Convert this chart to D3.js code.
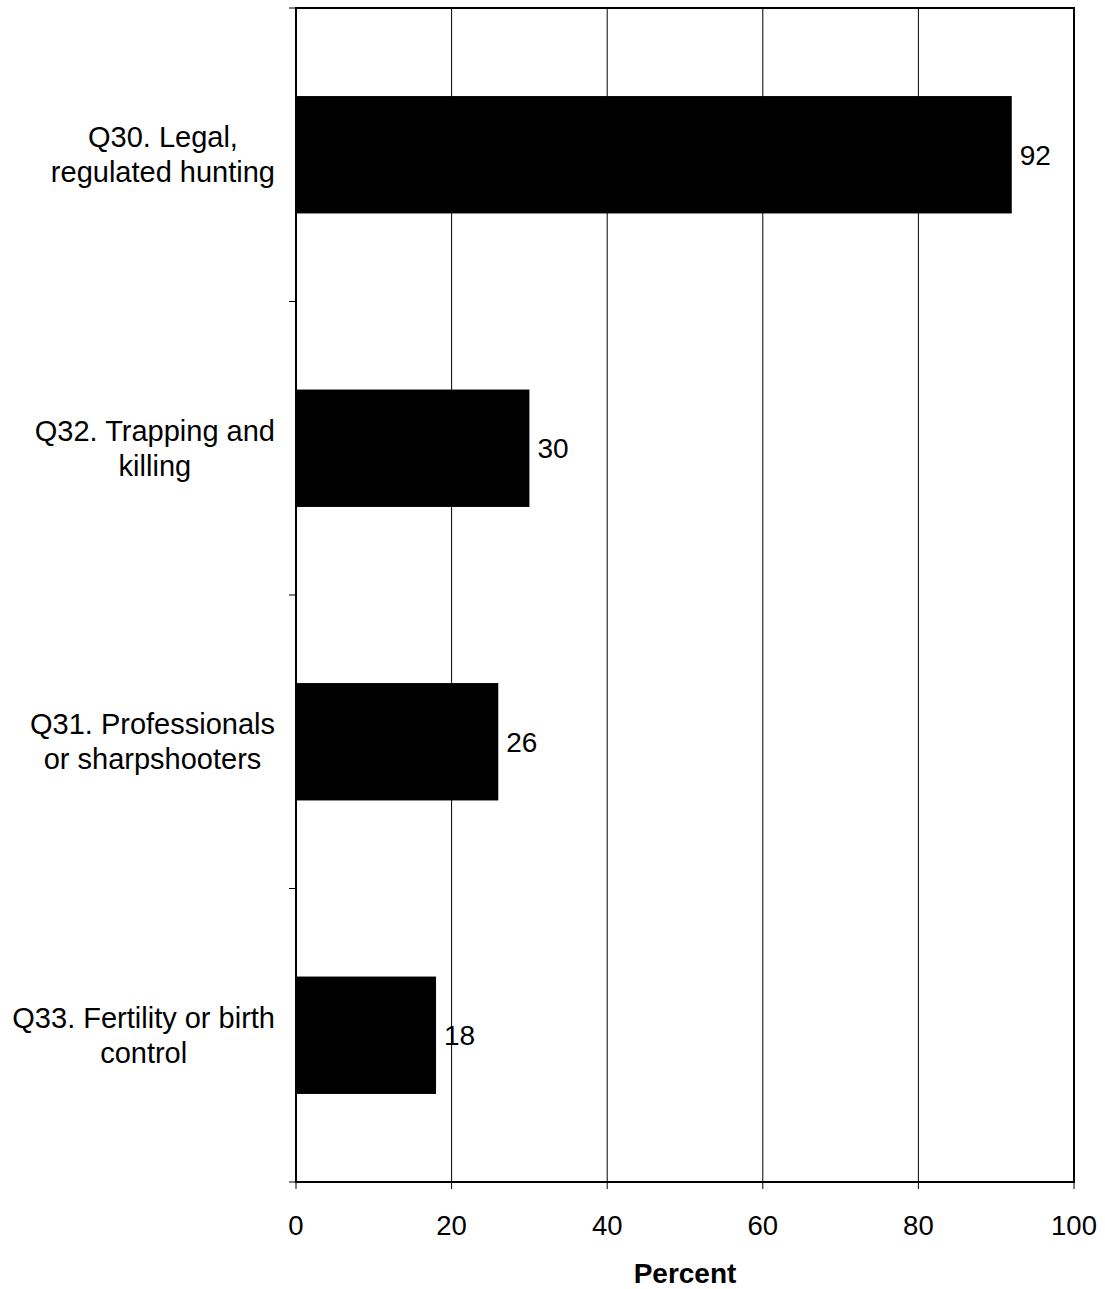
<!DOCTYPE html>
<html><head><meta charset="utf-8">
<script src="https://cdn.jsdelivr.net/npm/d3@7"></script>
<style>body{margin:0;background:#fff}svg{display:block}text{font-family:"Liberation Sans",Arial,sans-serif;fill:#000}</style>
</head><body>
<script>
const categories = ["Q30. Legal,\nregulated hunting","Q32. Trapping and\nkilling","Q31. Professionals\nor sharpshooters","Q33. Fertility or birth\ncontrol"];
const values = [92,30,26,18];
const xTicks = [0,20,40,60,80,100];
const xTitle = "Percent";

const W=1105,H=1289,FS=28,CFS=29;
const m={l:296,r:1074,t:8,b:1182};
const svg=d3.select("body").append("svg").attr("width",W).attr("height",H);
const x=d3.scaleLinear().domain([0,100]).range([m.l,m.r]);
const y=d3.scaleBand().domain(categories).range([m.t,m.b]).paddingInner(0.6).paddingOuter(0.3);
const yb=d3.scaleBand().domain(categories).range([m.t,m.b]);

// gridlines
svg.append("g").selectAll("line").data(xTicks.slice(1,-1)).join("line")
 .attr("x1",d=>x(d)).attr("x2",d=>x(d)).attr("y1",m.t).attr("y2",m.b)
 .attr("stroke","#000").attr("stroke-width",1);

// bars
svg.append("g").selectAll("rect").data(values).join("rect")
 .attr("x",x(0)).attr("y",(d,i)=>y(categories[i])).attr("width",d=>x(d)-x(0))
 .attr("height",y.bandwidth()).attr("fill","#000");

// value labels
svg.append("g").selectAll("text").data(values).join("text")
 .attr("x",d=>x(d)+8).attr("y",(d,i)=>y(categories[i])+y.bandwidth()/2)
 .attr("dy","0.35em").attr("font-size",FS).text(d=>d);

// frame
svg.append("rect").attr("x",m.l).attr("y",m.t).attr("width",m.r-m.l).attr("height",m.b-m.t)
 .attr("fill","none").attr("stroke","#000").attr("stroke-width",2);

// x axis ticks
const xa=svg.append("g");
xa.selectAll("line").data(xTicks).join("line")
 .attr("x1",d=>x(d)).attr("x2",d=>x(d)).attr("y1",m.b).attr("y2",m.b+7).attr("stroke","#000").attr("stroke-width",1);
xa.selectAll("text").data(xTicks).join("text")
 .attr("x",d=>x(d)).attr("y",1235).attr("text-anchor","middle").attr("font-size",27.5).text(d=>d);
svg.append("text").attr("x",(m.l+m.r)/2).attr("y",1283).attr("text-anchor","middle")
 .attr("font-size",FS).attr("font-weight","bold").text(xTitle);

// y ticks at band boundaries
const yt=categories.map(c=>yb(c)).concat([m.b]);
svg.append("g").selectAll("line").data(yt).join("line")
 .attr("x1",m.l-7).attr("x2",m.l).attr("y1",d=>d).attr("y2",d=>d).attr("stroke","#000").attr("stroke-width",1);

// category labels: block centered, widest line's right edge at 275
const cl=svg.append("g").selectAll("text").data(categories).join("text")
 .attr("text-anchor","middle").attr("font-size",CFS);
cl.each(function(c){
  const lines=c.split("\n");
  const t=d3.select(this);
  const y0=yb(c)+yb.bandwidth()/2;
  const spans=lines.map((l,i)=>t.append("tspan").attr("y",y0+(i-(lines.length-1)/2)*35).attr("dy","0.35em").text(l));
  const maxW=d3.max(spans,s=>s.node().getComputedTextLength());
  const cx=275-maxW/2;
  spans.forEach(s=>s.attr("x",cx));
});
</script>
</body></html>
